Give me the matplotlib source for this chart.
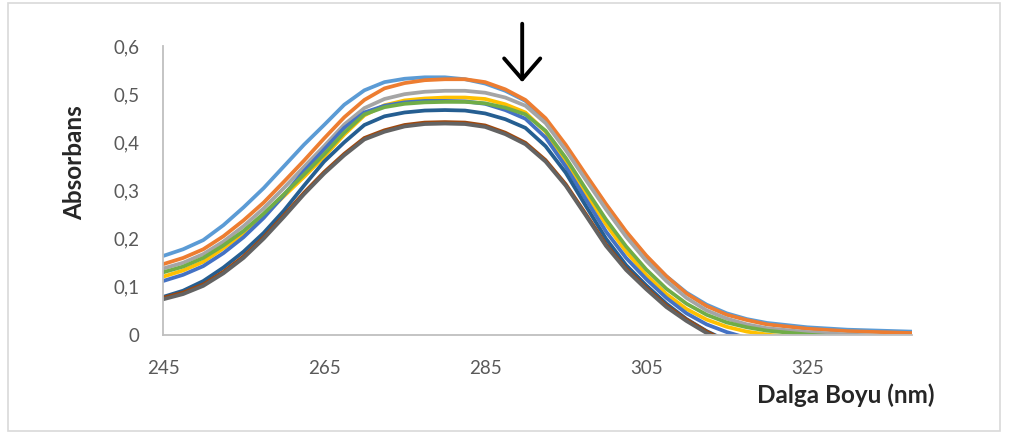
import matplotlib.pyplot as plt
from matplotlib.patches import Rectangle

plt.rcParams["font.family"] = ["Lato", "DejaVu Sans"]

# wavelength grid (nm) and absorbance, one list per series
wavelength = [245, 247.5, 250, 252.5, 255, 257.5, 260, 262.5, 265, 267.5,
              270, 272.5, 275, 277.5, 280, 282.5, 285, 287.5, 290, 292.5,
              295, 297.5, 300, 302.5, 305, 307.5, 310, 312.5, 315, 317.5,
              320, 325, 330, 338]

abs_1 = [0.164, 0.178, 0.197, 0.228, 0.265, 0.305, 0.350, 0.395, 0.436, 0.478,
         0.508, 0.525, 0.532, 0.535, 0.535, 0.531, 0.522, 0.507, 0.486, 0.447,
         0.390, 0.330, 0.270, 0.213, 0.163, 0.122, 0.088, 0.063, 0.045, 0.033,
         0.025, 0.016, 0.011, 0.007]
abs_2 = [0.147, 0.160, 0.178, 0.205, 0.238, 0.275, 0.318, 0.362, 0.408, 0.452,
         0.488, 0.512, 0.523, 0.529, 0.531, 0.531, 0.525, 0.510, 0.488, 0.450,
         0.395, 0.333, 0.272, 0.215, 0.165, 0.122, 0.086, 0.060, 0.042, 0.031,
         0.022, 0.013, 0.008, 0.004]
abs_3 = [0.138, 0.150, 0.168, 0.194, 0.226, 0.263, 0.305, 0.349, 0.392, 0.437,
         0.471, 0.490, 0.500, 0.505, 0.507, 0.507, 0.503, 0.493, 0.476, 0.440,
         0.384, 0.322, 0.261, 0.204, 0.154, 0.112, 0.077, 0.051, 0.034, 0.022,
         0.014, 0.006, 0.001, -0.004]
abs_4 = [0.121, 0.134, 0.152, 0.180, 0.211, 0.247, 0.288, 0.328, 0.370, 0.416,
         0.456, 0.477, 0.487, 0.491, 0.493, 0.493, 0.490, 0.479, 0.462, 0.422,
         0.360, 0.294, 0.230, 0.173, 0.125, 0.085, 0.054, 0.032, 0.017, 0.007,
         0.001, -0.008, -0.012, -0.015]
abs_5 = [0.112, 0.125, 0.143, 0.170, 0.203, 0.243, 0.290, 0.340, 0.385, 0.430,
         0.462, 0.476, 0.483, 0.486, 0.486, 0.485, 0.480, 0.467, 0.449, 0.410,
         0.350, 0.282, 0.215, 0.160, 0.116, 0.077, 0.045, 0.022, 0.006, -0.006,
         -0.015, -0.025, -0.030, -0.035]
abs_6 = [0.130, 0.142, 0.160, 0.186, 0.216, 0.252, 0.292, 0.333, 0.375, 0.420,
         0.458, 0.473, 0.480, 0.483, 0.484, 0.484, 0.481, 0.472, 0.458, 0.424,
         0.368, 0.303, 0.240, 0.184, 0.136, 0.096, 0.065, 0.042, 0.026, 0.016,
         0.009, 0.001, -0.005, -0.008]
abs_7 = [0.079, 0.092, 0.112, 0.140, 0.173, 0.212, 0.258, 0.310, 0.360, 0.400,
         0.436, 0.454, 0.462, 0.466, 0.467, 0.466, 0.460, 0.448, 0.430, 0.392,
         0.337, 0.268, 0.200, 0.145, 0.103, 0.065, 0.033, 0.008, -0.012, -0.025,
         -0.035, -0.045, -0.050, -0.055]
abs_8 = [0.077, 0.088, 0.105, 0.131, 0.163, 0.203, 0.248, 0.295, 0.338, 0.376,
         0.409, 0.425, 0.436, 0.441, 0.442, 0.441, 0.435, 0.420, 0.399, 0.363,
         0.313, 0.251, 0.188, 0.138, 0.098, 0.061, 0.032, 0.007, -0.014, -0.027,
         -0.037, -0.047, -0.052, -0.057]
abs_9 = [0.074, 0.085, 0.102, 0.128, 0.160, 0.200, 0.245, 0.292, 0.335, 0.373,
         0.406, 0.422, 0.433, 0.438, 0.439, 0.438, 0.432, 0.417, 0.396, 0.360,
         0.310, 0.248, 0.185, 0.135, 0.095, 0.058, 0.029, 0.004, -0.017, -0.030,
         -0.040, -0.050, -0.055, -0.060]

series = [abs_1, abs_2, abs_3, abs_4, abs_5, abs_6, abs_7, abs_8, abs_9]
colors = ["#5B9BD5", "#ED7D31", "#A5A5A5", "#FFC000", "#4472C4",
          "#70AD47", "#255E91", "#9E480E", "#636363"]

x_ticks = [245, 265, 285, 305, 325]
y_ticks = [0, 0.1, 0.2, 0.3, 0.4, 0.5, 0.6]
y_labels = ["0", "0,1", "0,2", "0,3", "0,4", "0,5", "0,6"]

W, H = 1009, 434
fig = plt.figure(figsize=(W / 100, H / 100), dpi=100)
ax = fig.add_axes([163 / W, 1 - 335 / H, 749 / W, 289 / H])

for vals, c in zip(series, colors):
    ax.plot(wavelength, vals, color=c, lw=2.7, solid_joinstyle="round")

ax.set_xlim(245, 338)
ax.set_ylim(0, 0.6)
ax.set_xticks(x_ticks)
ax.set_yticks(y_ticks)
ax.set_yticklabels(y_labels)
ax.tick_params(length=0, labelsize=13.5, labelcolor="#595959")
ax.tick_params(axis="y", pad=17)
ax.tick_params(axis="x", pad=18)
for s in ["top", "right"]:
    ax.spines[s].set_visible(False)
for s in ["left", "bottom"]:
    ax.spines[s].set_color("#BFBFBF")
    ax.spines[s].set_linewidth(1.3)

fig.text(75 / W, 1 - 163 / H, "Absorbans", rotation=90, ha="center",
         va="center", fontsize=17.5, fontweight="bold", color="#262626")
fig.text(846 / W, 1 - 395 / H, "Dalga Boyu (nm)", ha="center", va="center",
         fontsize=17.5, fontweight="bold", color="#262626")

# downward arrow marking the decreasing absorbance
ax.annotate("", xy=(289.6, 0.519), xytext=(289.6, 0.652),
            xycoords="data", annotation_clip=False,
            arrowprops=dict(arrowstyle="->,head_length=1.5,head_width=1.3",
                            color="black", lw=2.8, mutation_scale=10))

# chart area border
fig.patches.append(Rectangle((8 / W, 3 / H), 992 / W, 428 / H,
                             transform=fig.transFigure, fill=False,
                             edgecolor="#D9D9D9", lw=1.2))

fig.savefig("out.png", dpi=100)
